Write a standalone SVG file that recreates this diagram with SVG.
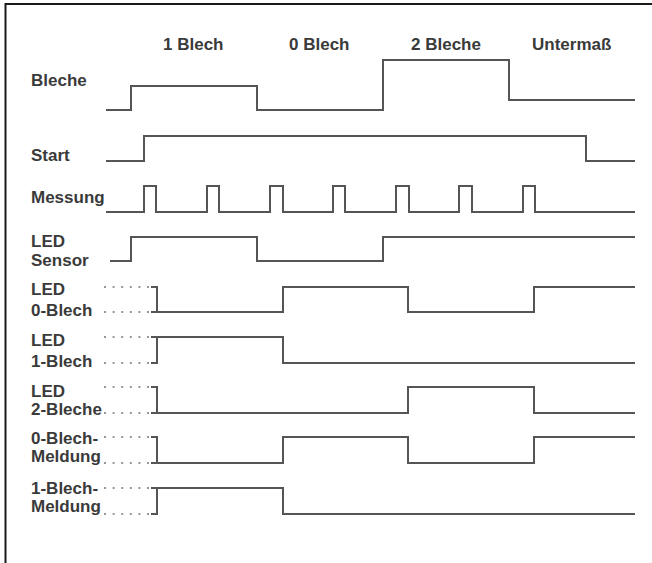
<svg xmlns="http://www.w3.org/2000/svg" width="652" height="563" viewBox="0 0 652 563">
<style>
text{font-family:"Liberation Sans",Arial,sans-serif;font-weight:bold;font-size:17px;fill:#3a3a3a}
.sig{fill:none;stroke:#555;stroke-width:2;stroke-linejoin:miter}
.dot{fill:none;stroke:#777;stroke-width:1.6;stroke-dasharray:2 6.6}
.frame{fill:none;stroke:#1a1a1a;stroke-width:2}
</style>
<rect width="652" height="563" fill="#fff"/>
<path class="frame" d="M652,4 H5.5 V563"/>
<g id="header">
<text x="163" y="50">1 Blech</text>
<text x="289" y="50">0 Blech</text>
<text x="411" y="50">2 Bleche</text>
<text x="532" y="50">Untermaß</text>
</g>
<g id="bleche">
<text x="31" y="86">Bleche</text>
<path class="sig" d="M106,110 H131 V86 H257 V110 H383 V60 H509 V100 H635"/>
</g>
<g id="start">
<text x="31" y="161">Start</text>
<path class="sig" d="M106,161 H144 V136 H586 V161 H635"/>
</g>
<g id="messung">
<text x="31" y="203">Messung</text>
<path class="sig" d="M106,212 H144 V186 H156 V212 H207 V186 H219 V212 H270 V186 H283 V212 H333 V186 H345 V212 H396 V186 H409 V212 H459 V186 H472 V212 H523 V186 H535 V212 H635"/>
</g>
<g id="led-sensor">
<text x="31" y="247">LED</text>
<text x="31" y="266">Sensor</text>
<path class="sig" d="M110,261 H131 V237 H257 V261 H383 V237 H635"/>
</g>
<g id="led-0-blech">
<text x="31" y="295">LED</text>
<text x="31" y="316">0-Blech</text>
<path class="dot" d="M104,287 H151 M104,312 H151"/>
<path class="sig" d="M151,287 H157 V312 H283 V287 H408 V312 H534 V287 H635 M151,312 H157"/>
</g>
<g id="led-1-blech">
<text x="31" y="346">LED</text>
<text x="31" y="367">1-Blech</text>
<path class="dot" d="M104,337 H151 M104,363 H151"/>
<path class="sig" d="M151,363 H157 V337 H283 V363 H635 M151,337 H157"/>
</g>
<g id="led-2-bleche">
<text x="31" y="397">LED</text>
<text x="31" y="415">2-Bleche</text>
<path class="dot" d="M104,387 H151 M104,413 H151"/>
<path class="sig" d="M151,387 H157 V413 H408 V387 H534 V413 H635 M151,413 H157"/>
</g>
<g id="meldung-0-blech">
<text x="31" y="444">0-Blech-</text>
<text x="31" y="462">Meldung</text>
<path class="dot" d="M104,437 H151 M104,463 H151"/>
<path class="sig" d="M151,437 H157 V463 H283 V437 H408 V463 H534 V437 H635 M151,463 H157"/>
</g>
<g id="meldung-1-blech">
<text x="31" y="494">1-Blech-</text>
<text x="31" y="512">Meldung</text>
<path class="dot" d="M104,488 H151 M104,514 H151"/>
<path class="sig" d="M151,514 H157 V488 H283 V514 H635 M151,488 H157"/>
</g>
</svg>
